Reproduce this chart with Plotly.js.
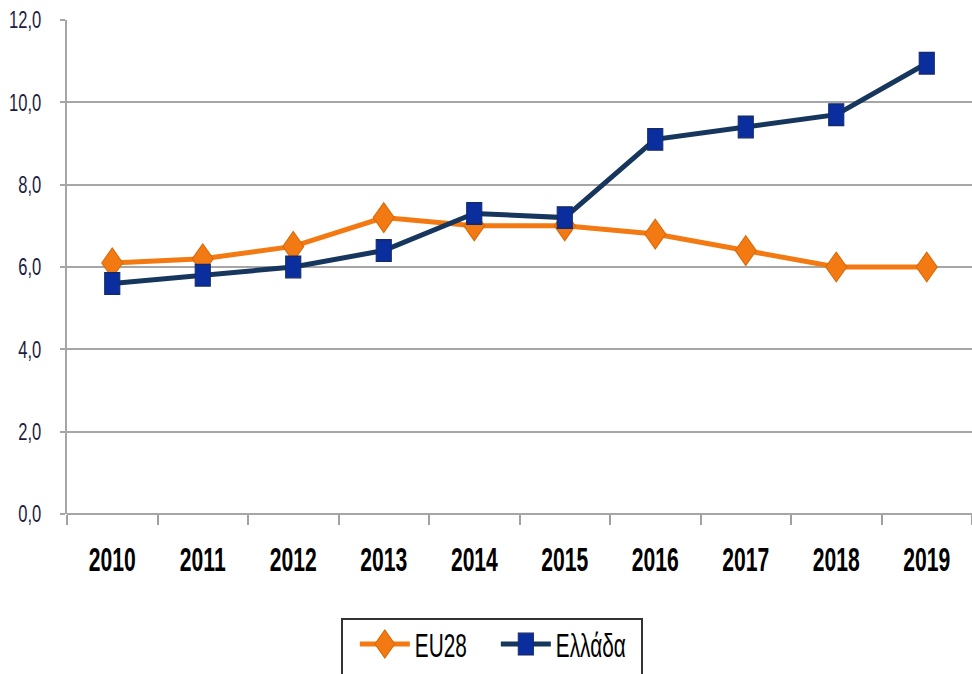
<!DOCTYPE html>
<html>
<head>
<meta charset="utf-8">
<script src="https://cdn.plot.ly/plotly-3.0.1.min.js"></script>
<style>html,body{margin:0;padding:0;background:#fff;}#chart{width:972px;height:674px;}</style>
</head>
<body>
<div id="chart"></div>
<script>
const years = ['2010','2011','2012','2013','2014','2015','2016','2017','2018','2019'];
const eu28 = [6.1, 6.2, 6.5, 7.2, 7.0, 7.0, 6.8, 6.4, 6.0, 6.0];
const greece = [5.6, 5.8, 6.0, 6.4, 7.3, 7.2, 9.1, 9.4, 9.7, 10.95];
const seriesNames = ['EU28', 'Ελλάδα'];

const font = '"Liberation Sans", Arial, sans-serif';

const traces = [
  {
    x: years, y: eu28, name: seriesNames[0], type: 'scatter', mode: 'lines+markers',
    legendwidth: 76,
    line: {color: '#F37A12', width: 5},
    marker: {symbol: 'diamond', size: 17, color: '#F37A12', line: {color: '#D96A0A', width: 1}}
  },
  {
    x: years, y: greece, name: seriesNames[1], type: 'scatter', mode: 'lines+markers',
    legendwidth: 92,
    line: {color: '#17365D', width: 5},
    marker: {symbol: 'square', size: 16, color: '#0A2E9E', line: {color: '#142A6A', width: 1}}
  }
];

const layout = {
  width: 972, height: 674,
  margin: {l: 67, r: 0, t: 20, b: 160},
  paper_bgcolor: '#fff', plot_bgcolor: '#fff',
  separators: ',.',
  showlegend: true,
  hovermode: false,
  xaxis: {
    type: 'category', range: [-0.5, 9.5],
    showgrid: false, showline: false, zeroline: false,
    ticks: 'outside', tickson: 'boundaries', ticklen: 10, tickwidth: 2, tickcolor: '#a0a0a0',
    ticklabelstandoff: 23,
    tickfont: {family: font, size: 33, color: '#000', weight: 'bold'}
  },
  yaxis: {
    range: [0, 12], dtick: 2, tick0: 0, tickformat: '.1f',
    showgrid: true, gridcolor: '#a6a6a6', gridwidth: 2,
    showline: true, linecolor: '#a6a6a6', linewidth: 2,
    zeroline: true, zerolinecolor: '#a6a6a6', zerolinewidth: 2,
    ticks: 'outside', ticklen: 5, tickwidth: 2, tickcolor: '#a6a6a6',
    ticklabelstandoff: 14,
    tickfont: {family: font, size: 24, color: '#1c1c40'}
  },
  legend: {
    orientation: 'h',
    xref: 'container', yref: 'container',
    x: 0.506, xanchor: 'center',
    y: 1 - 618/674, yanchor: 'top',
    itemwidth: 50,
    bordercolor: '#333', borderwidth: 2,
    bgcolor: '#fff',
    font: {family: font, size: 33, color: '#000'}
  }
};

// squeeze/stretch SVG text around an anchor point of its box
function reshape(el, sx, sy, anchor) {
  const bb = el.getBBox();
  const ax = anchor === 'right' ? bb.x + bb.width : anchor === 'left' ? bb.x : bb.x + bb.width / 2;
  const ay = bb.y + bb.height / 2;
  const prev = el.getAttribute('transform') || '';
  el.setAttribute('transform', prev + ' translate(' + ax + ',' + ay + ') scale(' + sx + ',' + sy + ') translate(' + (-ax) + ',' + (-ay) + ')');
}

Plotly.newPlot('chart', traces, layout, {displayModeBar: false, staticPlot: true}).then(function (gd) {
  gd.querySelectorAll('.xtick text').forEach(function (t) { reshape(t, 0.64, 1, 'center'); });
  gd.querySelectorAll('.ytick text').forEach(function (t) { reshape(t, 0.69, 1, 'right'); });
  gd.querySelectorAll('.legendtext').forEach(function (t) { reshape(t, 0.63, 1, 'left'); });
  gd.querySelectorAll('.scatterlayer .point, .legendpoints .scatterpts').forEach(function (p) {
    const prev = p.getAttribute('transform') || '';
    p.setAttribute('transform', prev + ' scale(0.95,1.35)');
  });
  // inner padding of the legend entries, as in the original box
  gd.querySelectorAll('.legend .traces').forEach(function (g) {
    const prev = g.getAttribute('transform') || '';
    g.setAttribute('transform', prev + ' translate(12,-4)');
  });
});
</script>
</body>
</html>
